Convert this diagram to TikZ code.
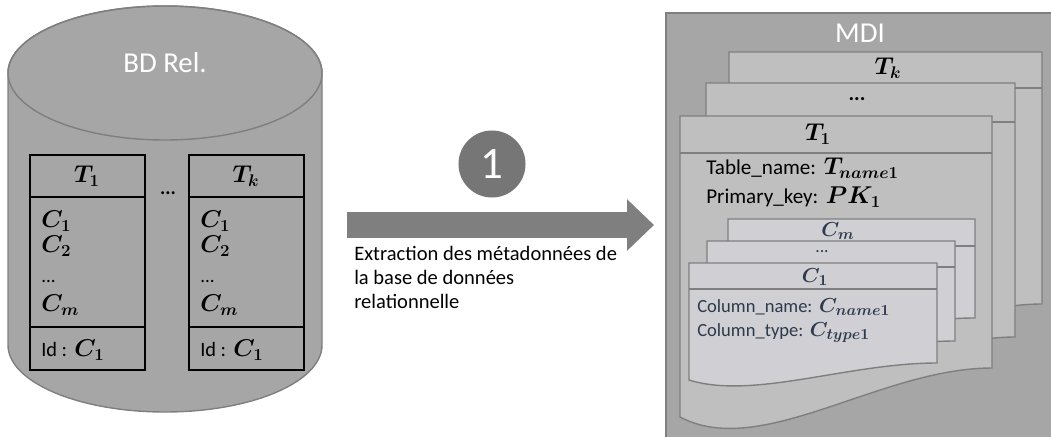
\documentclass[tikz,border=0pt]{standalone}
\usepackage{amsmath}
\usepackage{amssymb}
\usepackage[no-math]{fontspec}
\setmainfont{Carlito}
\usepackage{tikz}
\usetikzlibrary{calc}
\usetikzlibrary{arrows.meta}
\usetikzlibrary{positioning}

\definecolor{bggray}{HTML}{A6A6A6}
\definecolor{pagegray}{HTML}{BFBFBF}
\definecolor{colgray}{HTML}{D0CFD3}
\definecolor{edgegray}{HTML}{7F7F7F}
\definecolor{stepgray}{HTML}{767676}
\definecolor{slate}{HTML}{2B3A4C}

% plain text at a given size inside a math-sized node
\newcommand{\plaintxt}[2]{{\fontsize{#1}{#1}\selectfont\mdseries #2}}

\begin{document}
\begin{tikzpicture}[x=0.025cm, y=0.025cm,
  bigtext/.style={text=white, font=\fontsize{20.5}{24}\selectfont},
  cell/.style={inner sep=0, font=\fontsize{17}{19}\selectfont\boldmath},
  pagebox/.style={fill=pagegray, draw=edgegray, line width=1pt},
  colbox/.style={fill=colgray, draw=edgegray, line width=1pt},
  pagelabel/.style={inner sep=0, font=\fontsize{18}{20}\selectfont\boldmath},
  collabel/.style={inner sep=0, text=slate, font=\fontsize{15.5}{17}\selectfont\boldmath},
  bigarrow/.style={draw=edgegray, line width=0.65cm, -{Triangle[length=0.675cm, width=1.25cm]}}]
\clip (0, 0) rectangle (1051, 436);

% relational database
\draw [fill=bggray, draw=edgegray, line width=1pt] (8, 363) -- (8, 91)
  arc [start angle=180, end angle=360, x radius=157, y radius=67] -- (322, 363)
  arc [start angle=0, end angle=180, x radius=157, y radius=67] -- cycle;
\draw [draw=edgegray, line width=1pt] (165, 363) ellipse [x radius=157, y radius=67];
\node [bigtext] (bdrel) at (165, 373) {BD Rel.};

\foreach \x/\n in {30/tone, 189/tk} {
  \draw [line width=1pt] (\x, 66) rectangle ++(115, 215);
  \draw [line width=1pt] (\x, 239) -- ++(115, 0);
  \draw [line width=1pt] (\x, 109) -- ++(115, 0);
  \node [cell, anchor=west] (\n c1) at (\x+11, 215) {$C_1$};
  \node [cell, anchor=west] (\n c2) at (\x+11, 190) {$C_2$};
  \node [cell, anchor=west] (\n dots) at (\x+11, 155) {\plaintxt{13.5}{...}};
  \node [cell, anchor=west] (\n cm) at (\x+11, 131) {$C_m$};
  \node [cell, anchor=west] (\n id) at (\x+11, 86) {\plaintxt{14.5}{Id :} $C_1$};
}
\node [cell] (tonehead) at (87, 260) {$T_1$};
\node [cell] (tkhead) at (246, 260) {$T_k$};
\node [cell] (tdots) at (168, 243) {\plaintxt{14}{\bfseries ...}};

% extraction step
\coordinate (arrtail) at (347, 211);
\coordinate (arrtip) at (654, 211);
\draw [bigarrow] (arrtail) -- (arrtip);
\node [circle, fill=stepgray, minimum size=1.675cm, inner sep=0, text=white,
  font=\fontsize{32}{36}\selectfont] (step1) at (492, 272) {1};
\node [anchor=north west, inner sep=0, align=left,
  font=\fontsize{14.6}{17}\selectfont] (steptext) at (354, 190)
  {Extraction des métadonnées de\\la base de données\\relationnelle};

% MDI
\draw [fill=bggray, draw=edgegray, line width=1pt] (666, -10) rectangle (1070, 423);
\node [bigtext] (mdi) at (860, 403) {MDI};

\foreach \xa/\xb/\yt/\yh/\yr/\yl/\pa/\pb/\pc in
  {729/1042/384/348/132/83/810/40/929, 706/1015/353/314/99/50/786/7/904,
   680/992/320/283/68/19/761/-24/880} {
  \draw [pagebox] (\xa, \yt) -- (\xb, \yt) -- (\xb, \yr)
    .. controls (\pc, \yr) and (\pa, \pb) .. (\xa, \yl) -- cycle;
  \draw [edgegray, line width=1pt] (\xa, \yh) -- (\xb, \yh);
}
\node [pagelabel] (mtk) at (888, 368) {$T_k$};
\node [pagelabel] (mdots) at (857, 337) {\plaintxt{15}{\bfseries ...}};
\node [pagelabel] (mtone) at (818, 302) {$T_1$};
\node [pagelabel, anchor=west] (tname) at (706, 268) {\plaintxt{15}{Table\_name:} $T_{name1}$};
\node [pagelabel, anchor=west] (pkey) at (706, 239) {\plaintxt{15}{Primary\_key:} $PK_1$};

\foreach \xa/\xb/\yt/\yh/\yr/\yl/\pa/\pb/\pc in
  {728/975/217/190/118/101/792/81/887, 707/955/195/169/95/78/771/58/866,
   689/937/173/147/73/56/753/36/848} {
  \draw [colbox] (\xa, \yt) -- (\xb, \yt) -- (\xb, \yr)
    .. controls (\pc, \yr) and (\pa, \pb) .. (\xa, \yl) -- cycle;
  \draw [edgegray, line width=1pt] (\xa, \yh) -- (\xb, \yh);
}
\node [collabel] (ccm) at (838, 205) {$C_m$};
\node [collabel] (cdots) at (822, 184) {\plaintxt{12.5}{...}};
\node [collabel] (cone) at (815, 159) {$C_1$};
\node [collabel, anchor=west] (cname) at (697, 129) {\plaintxt{13.2}{Column\_name:} $C_{name1}$};
\node [collabel, anchor=west] (ctype) at (697, 103) {\plaintxt{13.2}{Column\_type:} $C_{type1}$};
\end{tikzpicture}
\end{document}
